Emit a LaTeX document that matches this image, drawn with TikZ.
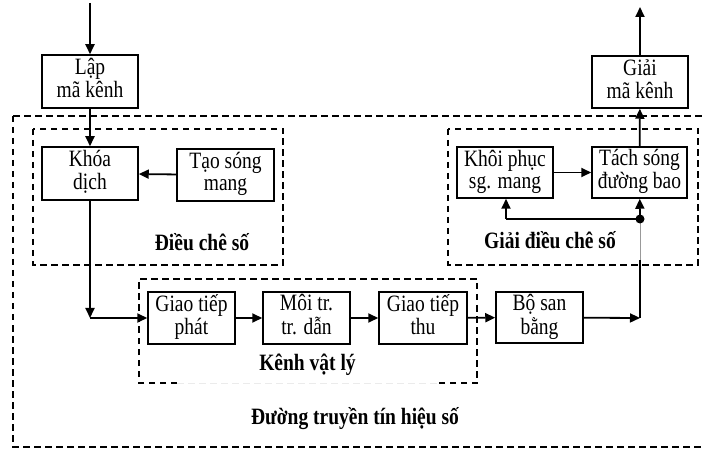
\documentclass[tikz,border=0pt]{standalone}
\usepackage{fontspec}
\setmainfont{Liberation Serif}
\usetikzlibrary{arrows.meta}
\newcommand\vstack[1]{\scalebox{1}[1.2]{\begin{tabular}{@{}c@{}}#1\end{tabular}}}
\begin{document}
\begin{tikzpicture}[x=1pt,y=-1pt,
  blk/.style={draw,line width=1.5pt,inner sep=0pt,align=center,font=\fontsize{19.5}{18.4}\selectfont},
  grp/.style={draw,line width=1.7pt,dash pattern=on 6.5pt off 4.5pt},
  lbl/.style={font=\fontsize{19.5}{18.4}\selectfont\bfseries,inner sep=0pt},
  arr/.style={line width=1.8pt,-{Triangle[length=10pt,width=9pt]}},
  ln/.style={line width=1.8pt}]
\useasboundingbox (0,0) rectangle (702,449);
% group boxes
\draw[grp] (13,116) -- (712,116);
\draw[grp] (13,116) -- (13,447) -- (712,447);
\draw[grp] (33,129) rectangle (283,265);
\draw[grp] (448,129) rectangle (698,265);
\draw[grp] (177,383) -- (139,383) -- (139,279) -- (477,279) -- (477,383) -- (437,383);
\draw[line width=0.8pt,black!8,dash pattern=on 6.5pt off 4.5pt] (177,383) -- (437,383);
% blocks
\node[blk,minimum width=96pt,minimum height=53pt] (lap) at (90,81.5) {\vstack{Lập\\mã kênh}};
\node[blk,minimum width=96pt,minimum height=53pt] (khoa) at (90,173.5) {\vstack{Khóa\\dịch}};
\node[blk,minimum width=97pt,minimum height=52pt] (tao) at (225.5,175) {\vstack{Tạo sóng\\mang}};
\node[blk,minimum width=87pt,minimum height=52pt] (gtp) at (191.5,318) {\vstack{Giao tiếp\\phát}};
\node[blk,minimum width=87pt,minimum height=52pt] (moi) at (306.5,318) {\vstack{Môi tr.\\tr. dẫn}};
\node[blk,minimum width=88pt,minimum height=52pt] (gtt) at (423,318) {\vstack{Giao tiếp\\thu}};
\node[blk,minimum width=87pt,minimum height=51pt] (bsb) at (539.5,317.5) {\vstack{Bộ san\\bằng}};
\node[blk,minimum width=96pt,minimum height=51pt] (kp) at (505,172.5) {\vstack{Khôi phục\\sg. mang}};
\node[blk,minimum width=95pt,minimum height=51pt] (tach) at (639.5,172.5) {\vstack{Tách sóng\\đường bao}};
\node[blk,minimum width=96pt,minimum height=52pt] (giai) at (640,82) {\vstack{Giải\\mã kênh}};
% labels
\node[lbl] (l1) at (202,242) {\scalebox{1}[1.2]{Điều chê số}};
\node[lbl] (l2) at (550,240) {\scalebox{1}[1.2]{Giải điều chê số}};
\node[lbl] (l3) at (307.5,365) {\scalebox{1}[1.2]{Kênh vật lý}};
\node[lbl] (l4) at (355,419) {\scalebox{1}[1.2]{Đường truyền tín hiệu số}};
% coordinates
\coordinate (in) at (90,3);
\coordinate (out) at (640,7);
\coordinate (c1) at (90,318);
\coordinate (c2) at (640,318);
\coordinate (c4) at (640,260);
\coordinate (dot) at (640,219);
\coordinate (c3) at (506,219);
% connectors
\draw[arr] (in) -- (lap);
\draw[arr] (lap) -- (khoa);
\draw[arr] (tao) -- (khoa);
\draw[arr] (khoa) -- (c1);
\draw[arr] (c1) -- (gtp);
\draw[arr] (gtp) -- (moi);
\draw[arr] (moi) -- (gtt);
\draw[arr] (gtt) -- (bsb);
\draw[arr] (bsb) -- (c2);
\draw[ln] (c2) -- (c4);
\draw[line width=0.6pt,black!40] (c4) -- (dot);
\draw[arr] (dot) -- (tach);
\draw[ln] (dot) -- (c3);
\draw[arr] (c3) -- (kp.south -| c3);
\fill (dot) circle (4.5pt);
\draw[arr] (kp) -- (tach);
\draw[arr] (tach) -- (giai);
\draw[arr] (giai) -- (out);
\end{tikzpicture}
\end{document}
